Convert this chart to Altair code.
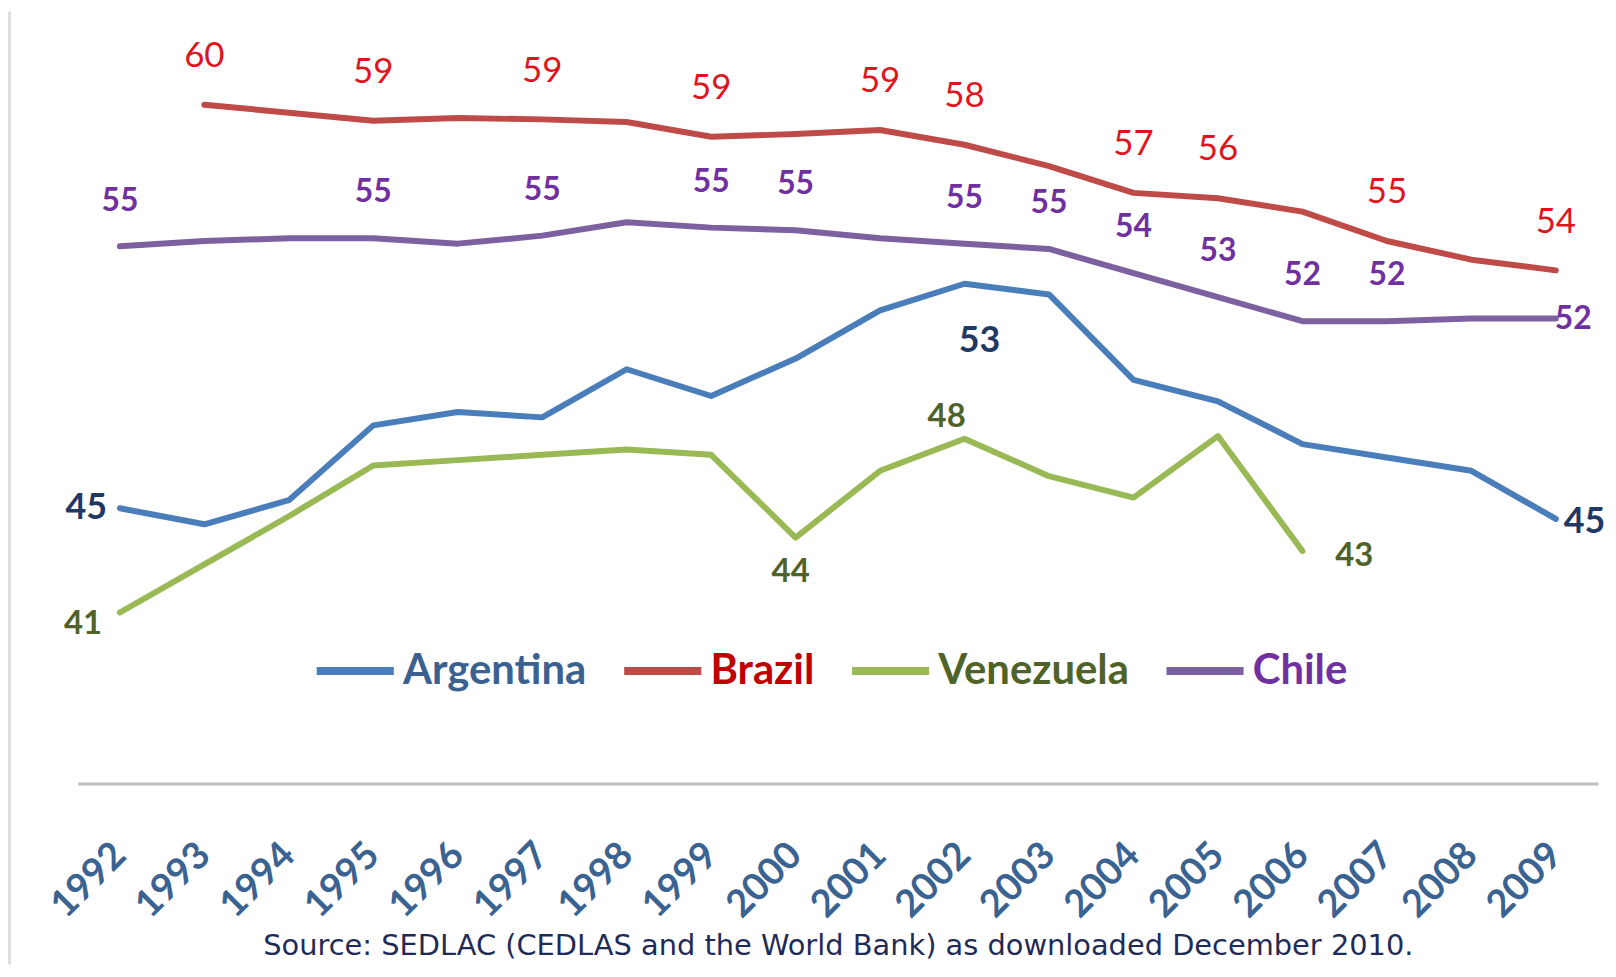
import altair as alt
import pandas as pd

# ---------------- data ----------------
years = [1992, 1993, 1994, 1995, 1996, 1997, 1998, 1999, 2000,
         2001, 2002, 2003, 2004, 2005, 2006, 2007, 2008, 2009]

argentina = [44.9, 44.3, 45.2, 48.0, 48.5, 48.3, 50.1, 49.1, 50.5,
             52.3, 53.3, 52.9, 49.7, 48.9, 47.3, 46.8, 46.3, 44.5]
brazil_years = years[1:]
brazil = [60.0, 59.7, 59.4, 59.5, 59.45, 59.35, 58.8, 58.9,
          59.05, 58.5, 57.7, 56.7, 56.5, 56.0, 54.9, 54.2, 53.8]
venezuela_years = years[:15]
venezuela = [41.0, 42.8, 44.6, 46.5, 46.7, 46.9, 47.1, 46.9, 43.8,
             46.3, 47.5, 46.1, 45.3, 47.6, 43.3]
chile = [54.7, 54.9, 55.0, 55.0, 54.8, 55.1, 55.6, 55.4, 55.3,
         55.0, 54.8, 54.6, 53.7, 52.8, 51.9, 51.9, 52.0, 52.0]

countries = ["Argentina", "Brazil", "Venezuela", "Chile"]
line_colors = ["#4A7EBB", "#BE4B48", "#98B954", "#7D60A0"]
legend_label_colors = ["#3B6190", "#C00000", "#4F6228", "#7030A0"]

# data labels: (year, text) per country and placement
brazil_above = [(1993, "60"), (1995, "59"), (1997, "59"), (1999, "59"), (2001, "59"),
                (2002, "58"), (2004, "57"), (2005, "56"), (2007, "55"), (2009, "54")]
chile_above = [(1992, "55"), (1995, "55"), (1997, "55"), (1999, "55"), (2000, "55"),
               (2002, "55"), (2003, "55"), (2004, "54"), (2005, "53"), (2006, "52"),
               (2007, "52")]
chile_right = [(2009, "52")]
arg_left = [(1992, "45")]
arg_below = [(2002, "53")]
arg_right = [(2009, "45")]
ven_left = [(1992, "41")]
ven_below = [(2000, "44")]
ven_above = [(2002, "48")]
ven_right = [(2006, "43")]

source_text = "Source: SEDLAC (CEDLAS and the World Bank) as downloaded December 2010."

# ---------------- tables ----------------
series = {
    "Argentina": dict(zip(years, argentina)),
    "Brazil": dict(zip(brazil_years, brazil)),
    "Venezuela": dict(zip(venezuela_years, venezuela)),
    "Chile": dict(zip(years, chile)),
}
rows = []
for c in countries:
    for y, v in series[c].items():
        rows.append({"country": c, "year": y, "value": v})
df = pd.DataFrame(rows)


def label_df(country, items):
    return pd.DataFrame([{"year": y, "value": series[country][y], "label": t}
                         for y, t in items])


# ---------------- scales / axis ----------------
xscale = alt.Scale(domain=[1991.5, 2009.5], nice=False, zero=False)
yscale = alt.Scale(domain=[34.6, 63.23], nice=False, zero=False)

xaxis = alt.Axis(values=years, format="d", grid=False, ticks=False, tickSize=0,
                 domainColor="#BFBFBF", domainWidth=3,
                 labelAngle=315, labelAlign="right", labelBaseline="middle",
                 labelPadding=66, labelFont="Lato", labelFontSize=38,
                 labelFontWeight="bold", labelColor="#3A6391",
                 labelOverlap=False, labelFlush=False,
                 title=source_text, titleFont="DejaVu Sans", titleFontSize=29,
                 titleFontWeight="normal", titleColor="#1F2B57",
                 titlePadding=7)


def X():
    return alt.X("year:Q", scale=xscale, axis=xaxis)


def Y():
    return alt.Y("value:Q", scale=yscale, axis=None)


color_expr = ("datum.label == 'Argentina' ? '%s' : datum.label == 'Brazil' ? '%s' : "
              "datum.label == 'Venezuela' ? '%s' : '%s'") % tuple(legend_label_colors)

lines = alt.Chart(df).mark_line(strokeWidth=6, strokeCap="round", strokeJoin="round").encode(
    x=X(),
    y=Y(),
    color=alt.Color("country:N",
                    scale=alt.Scale(domain=countries, range=line_colors),
                    legend=alt.Legend(orient="none", legendX=236, legendY=613,
                                      direction="horizontal", title=None,
                                      symbolType="stroke", symbolSize=6000,
                                      symbolStrokeWidth=8, labelFont="Lato",
                                      labelFontSize=42, labelFontWeight="bold",
                                      labelColor=alt.ExprRef(expr=color_expr),
                                      labelOffset=5, columnPadding=21, labelLimit=400)),
    detail="country:N",
)


def label_layer(country, items, dx, dy, align, color, size, weight):
    return alt.Chart(label_df(country, items)).mark_text(
        dx=dx, dy=dy, align=align, baseline="middle", font="Lato",
        fontSize=size, fontWeight=weight, color=color
    ).encode(
        x=X(),
        y=Y(),
        text="label:N",
    )


BR = "#E0141E"
CH = "#7030A0"
AR = "#1F3864"
VE = "#4F6228"

layers = [
    lines,
    label_layer("Brazil", brazil_above, 0, -49, "center", BR, 35, "normal"),
    label_layer("Chile", chile_above, 0, -46, "center", CH, 32, "bold"),
    label_layer("Chile", chile_right, -1, 1, "left", CH, 32, "bold"),
    label_layer("Argentina", arg_left, -13, 0, "right", AR, 36, "bold"),
    label_layer("Argentina", arg_below, 15, 58, "center", AR, 36, "bold"),
    label_layer("Argentina", arg_right, 8, 3, "left", AR, 36, "bold"),
    label_layer("Venezuela", ven_left, -18, 12, "right", VE, 33, "bold"),
    label_layer("Venezuela", ven_below, -5, 35, "center", VE, 33, "bold"),
    label_layer("Venezuela", ven_above, -18, -22, "center", VE, 33, "bold"),
    label_layer("Venezuela", ven_right, 33, 5, "left", VE, 33, "bold"),
]

border = alt.Chart(pd.DataFrame({"k": [0]})).mark_rule(color="#DDDDDD", strokeWidth=3).encode(
    x=alt.value(-68.5), y=alt.value(-7), y2=alt.value(951)
)

chart = alt.layer(border, *layers).properties(
    width=1528, height=769,
    background="white",
    autosize=alt.AutoSizeParams(type="none"),
    padding={"left": 70, "top": 8, "right": 10, "bottom": 182},
).configure_view(stroke="transparent")

chart.save("out.html", embed_options={"renderer": "svg", "actions": False})
